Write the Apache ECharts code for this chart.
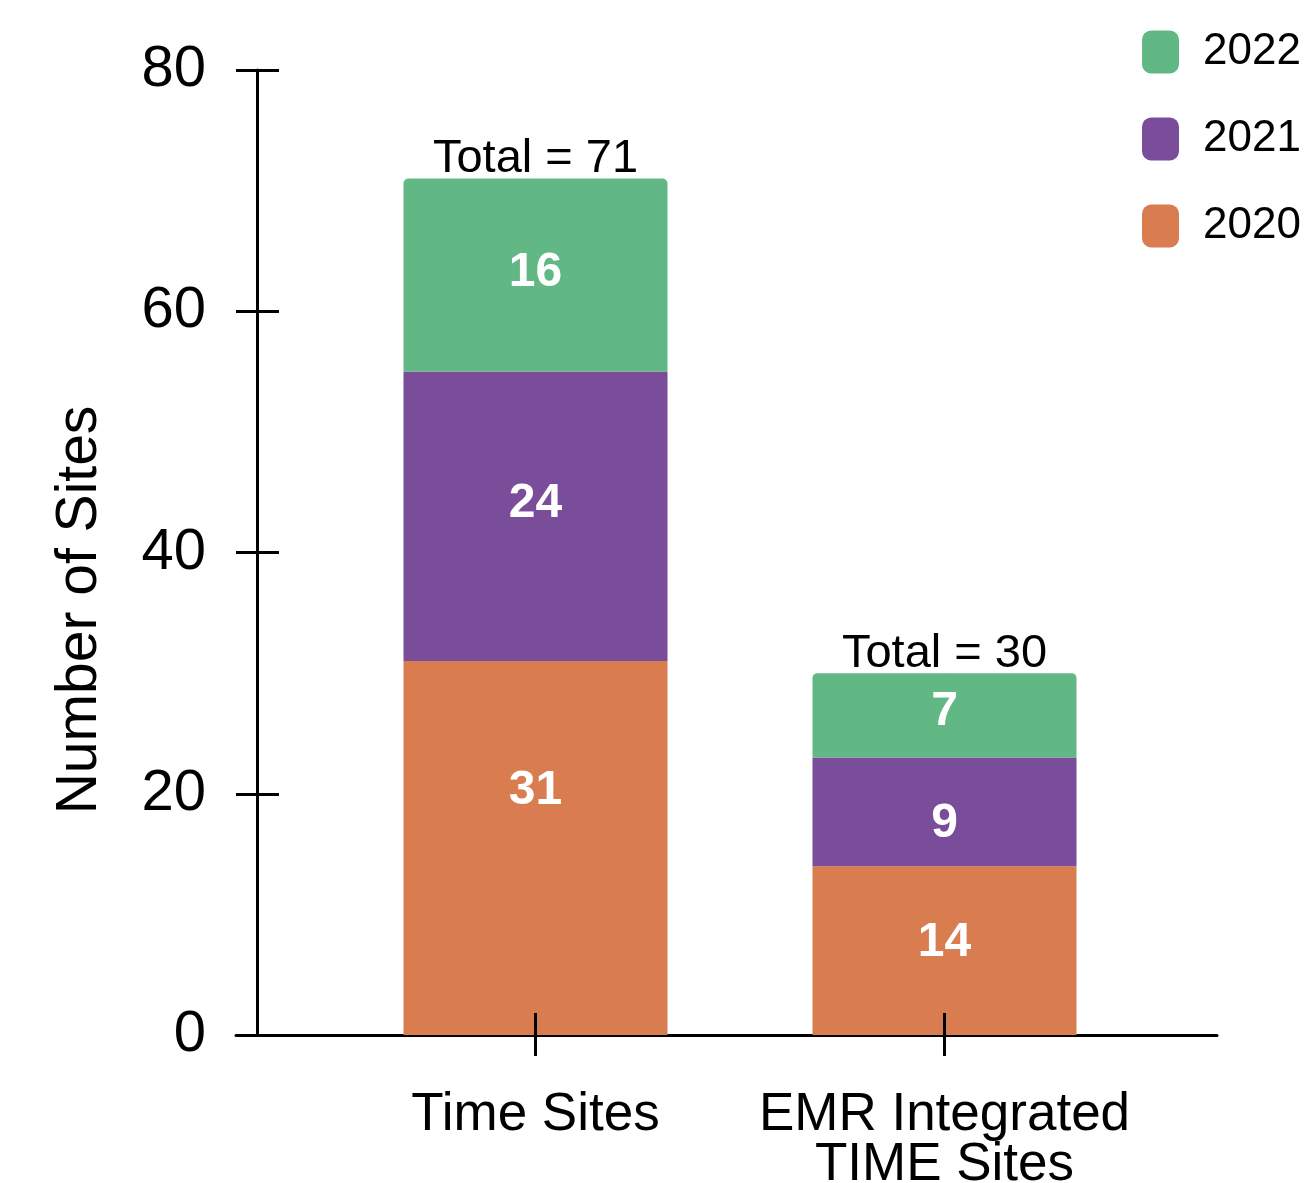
<!DOCTYPE html>
<html>
<head>
<meta charset="utf-8">
<script src="https://cdn.jsdelivr.net/npm/echarts@6/dist/echarts.min.js"></script>
<style>
html,body{margin:0;padding:0;background:#fff;}
#chart{width:1307px;height:1183px;}
</style>
</head>
<body>
<div id="chart"></div>
<script>
const categories = ['Time Sites', 'EMR Integrated\nTIME Sites'];
const seriesNames = ['2020', '2021', '2022'];
const values2020 = [31, 14];
const values2021 = [24, 9];
const values2022 = [16, 7];
const yMin = 0, yMax = 80, yInterval = 20;
const legendOrder = ['2022', '2021', '2020'];

const totals = categories.map((c, i) => values2020[i] + values2021[i] + values2022[i]);

const FONT = 'Liberation Sans, Arial, Helvetica, sans-serif';
const colors = { '2020': '#d97c50', '2021': '#7a4d9a', '2022': '#62b884' };
// small vertical nudges of the in-bar value labels (style only)
const labelNudge = { '2020': [-57, -8], '2021': [-13, 12], '2022': [-2, -4] };

const chart = echarts.init(document.getElementById('chart'));

const barLabel = {
  show: true, position: 'inside', color: '#fff',
  fontFamily: FONT, fontWeight: 'bold', fontSize: 48
};

function barSeries(name, values, radius) {
  return {
    name: name, type: 'bar', stack: 'total',
    data: values.map((v, i) => ({ value: v, label: { offset: [0, labelNudge[name][i]] } })),
    xAxisIndex: 0, yAxisIndex: 0,
    barWidth: 264,
    itemStyle: { color: colors[name], borderRadius: radius },
    label: barLabel,
    emphasis: { disabled: true }
  };
}

chart.setOption({
  animation: false,
  backgroundColor: '#fff',
  textStyle: { fontFamily: FONT },
  legend: {
    data: legendOrder,
    orient: 'vertical',
    left: 1142, top: 30,
    padding: 0,
    itemWidth: 37, itemHeight: 43, itemGap: 43,
    icon: 'roundRect',
    selectedMode: false,
    textStyle: { fontFamily: FONT, fontSize: 44, color: '#000', padding: [0, 0, 0, 19] }
  },
  grid: [
    { left: 331, width: 818, top: 70, height: 965, outerBoundsMode: 'none', containLabel: false },
    { left: 236, width: 981, top: 70, height: 965, outerBoundsMode: 'none', containLabel: false }
  ],
  xAxis: [
    {
      type: 'category', gridIndex: 0, data: categories, position: 'bottom',
      axisLine: { show: false },
      axisTick: { show: true, alignWithLabel: true, length: 21, lineStyle: { color: '#000', width: 3 } },
      axisLabel: { fontFamily: FONT, fontSize: 53, color: '#000', margin: 55, lineHeight: 50, interval: 0 },
      splitLine: { show: false }
    },
    {
      type: 'category', gridIndex: 0, data: categories, position: 'bottom', z: 10,
      axisLine: { show: false },
      axisTick: { show: true, inside: true, alignWithLabel: true, length: 22, lineStyle: { color: '#000', width: 3 } },
      axisLabel: { show: false },
      splitLine: { show: false }
    },
    {
      type: 'value', gridIndex: 1, min: 0, max: 1, position: 'bottom',
      axisLine: { show: true, lineStyle: { color: '#000', width: 3 } },
      axisTick: { show: false }, axisLabel: { show: false }, splitLine: { show: false }
    }
  ],
  yAxis: [
    {
      type: 'value', gridIndex: 0, min: yMin, max: yMax, interval: yInterval,
      position: 'left', offset: 74,
      name: 'Number of Sites', nameLocation: 'middle', nameGap: 148, nameRotate: 90,
      nameTextStyle: { fontFamily: FONT, fontSize: 57, color: '#000', padding: [0, 115, 0, 0] },
      axisLine: { show: true, lineStyle: { color: '#000', width: 3 } },
      axisTick: { show: true, length: 21, lineStyle: { color: '#000', width: 3 } },
      axisLabel: { fontFamily: FONT, fontSize: 58, color: '#000', margin: 51 },
      splitLine: { show: false }
    },
    {
      type: 'value', gridIndex: 0, min: yMin, max: yMax, interval: yInterval,
      position: 'left', offset: 74,
      axisLine: { show: false },
      axisTick: { show: true, inside: true, length: 22, lineStyle: { color: '#000', width: 3 } },
      axisLabel: { show: false },
      splitLine: { show: false }
    },
    {
      type: 'value', gridIndex: 1, min: 0, max: 1, show: false
    }
  ],
  series: [
    barSeries('2020', values2020, 0),
    barSeries('2021', values2021, 0),
    barSeries('2022', values2022, [5, 5, 0, 0]),
    {
      name: 'Total', type: 'scatter', xAxisIndex: 0, yAxisIndex: 0,
      data: totals, symbolSize: 0.1, z: 5, silent: true,
      itemStyle: { color: '#000', opacity: 1 },
      label: {
        show: true, position: 'top', distance: -4, opacity: 1,
        formatter: p => 'Total = ' + p.value,
        fontFamily: FONT, fontSize: 47, color: '#000'
      }
    }
  ]
});
</script>
</body>
</html>
